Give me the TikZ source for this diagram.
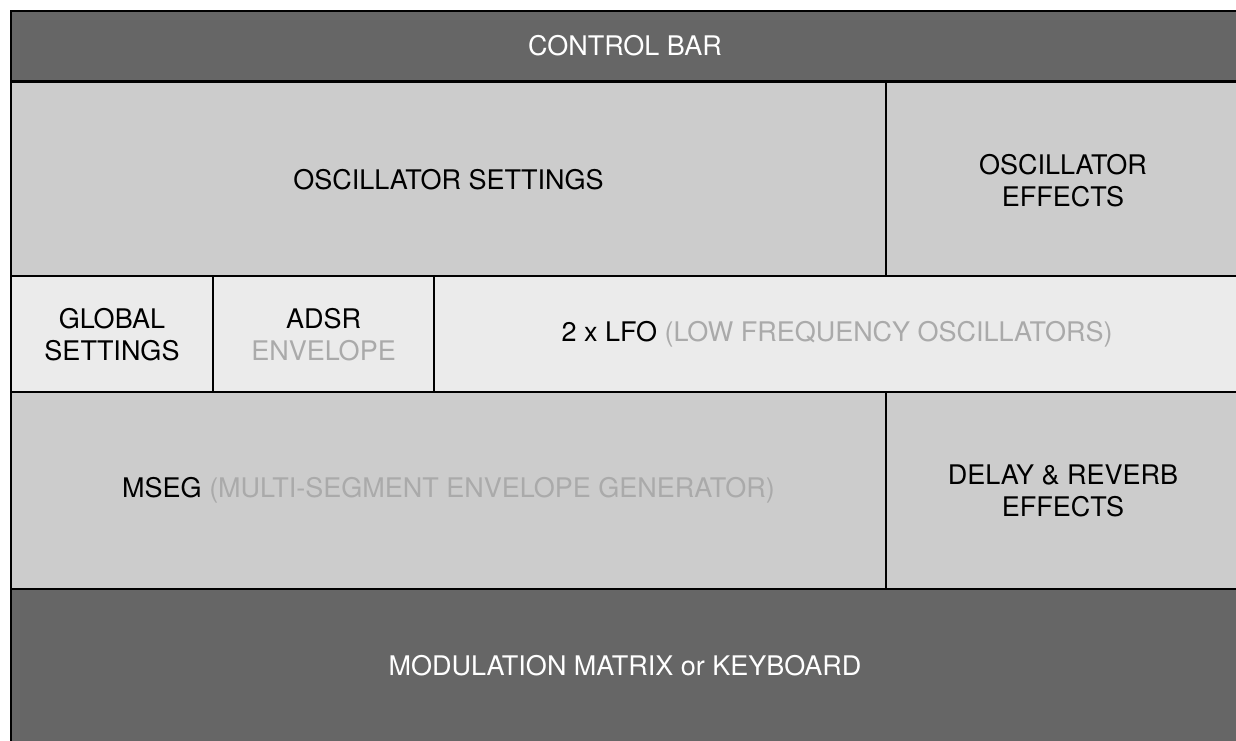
\documentclass[tikz,border=0pt]{standalone}
\usepackage{fontspec}
\setmainfont{TeX Gyre Heros}
\definecolor{bardark}{HTML}{666666}
\definecolor{panelgray}{HTML}{CCCCCC}
\definecolor{panellight}{HTML}{EBEBEB}
\definecolor{subtext}{HTML}{AAAAAA}
\tikzset{
  panel/.style={draw=black, line width=2.5pt},
  paneltext/.style={align=center, font=\fontsize{27}{32}\selectfont},
}

\begin{document}
\begin{tikzpicture}[x=1pt,y=-1pt]
		%%%%% START %%%%%
		\useasboundingbox (0,0) rectangle (1236,740);
		\clip (0,0) rectangle (1236,740);
		
		% top and bottom bars
		\draw[panel, fill=bardark] (11,11) rectangle (1250,81.5);
		\draw[panel, fill=bardark] (11,589) rectangle (1250,760);
		
		% oscillator row
		\draw[panel, fill=panelgray] (11,81.5) rectangle (886,276);
		\draw[panel, fill=panelgray] (886,81.5) rectangle (1250,276);
		
		% envelope and lfo row
		\draw[panel, fill=panellight] (11,276) rectangle (213,392);
		\draw[panel, fill=panellight] (213,276) rectangle (434,392);
		\draw[panel, fill=panellight] (434,276) rectangle (1250,392);
		
		% mseg row
		\draw[panel, fill=panelgray] (11,392) rectangle (886,589);
		\draw[panel, fill=panelgray] (886,392) rectangle (1250,589);
		\draw[line width=3pt] (11,81.5) -- (1250,81.5);
		
		\node[paneltext, text=white] (ctrlbar) at (625,46) {CONTROL BAR};
		\node[paneltext] (oscsettings) at (448.5,180) {OSCILLATOR SETTINGS};
		\node[paneltext] (osceffects) at (1063,181) {OSCILLATOR\\EFFECTS};
		\node[paneltext] (globalset) at (112,335) {GLOBAL\\SETTINGS};
		\node[paneltext] (adsr) at (323.5,335) {ADSR\\\textcolor{subtext}{ENVELOPE}};
		\node[paneltext] (lfo) at (837,334) {2 x LFO \textcolor{subtext}{(LOW FREQUENCY OSCILLATORS)}};
		\node[paneltext] (mseg) at (448.5,490) {MSEG \textcolor{subtext}{(MULTI-SEGMENT ENVELOPE GENERATOR)}};
		\node[paneltext] (delayfx) at (1063,491) {DELAY \& REVERB\\EFFECTS};
		\node[paneltext, text=white] (modmatrix) at (625,666) {MODULATION MATRIX or KEYBOARD};
		
		%%%%% END %%%%%
\end{tikzpicture}
\end{document}
